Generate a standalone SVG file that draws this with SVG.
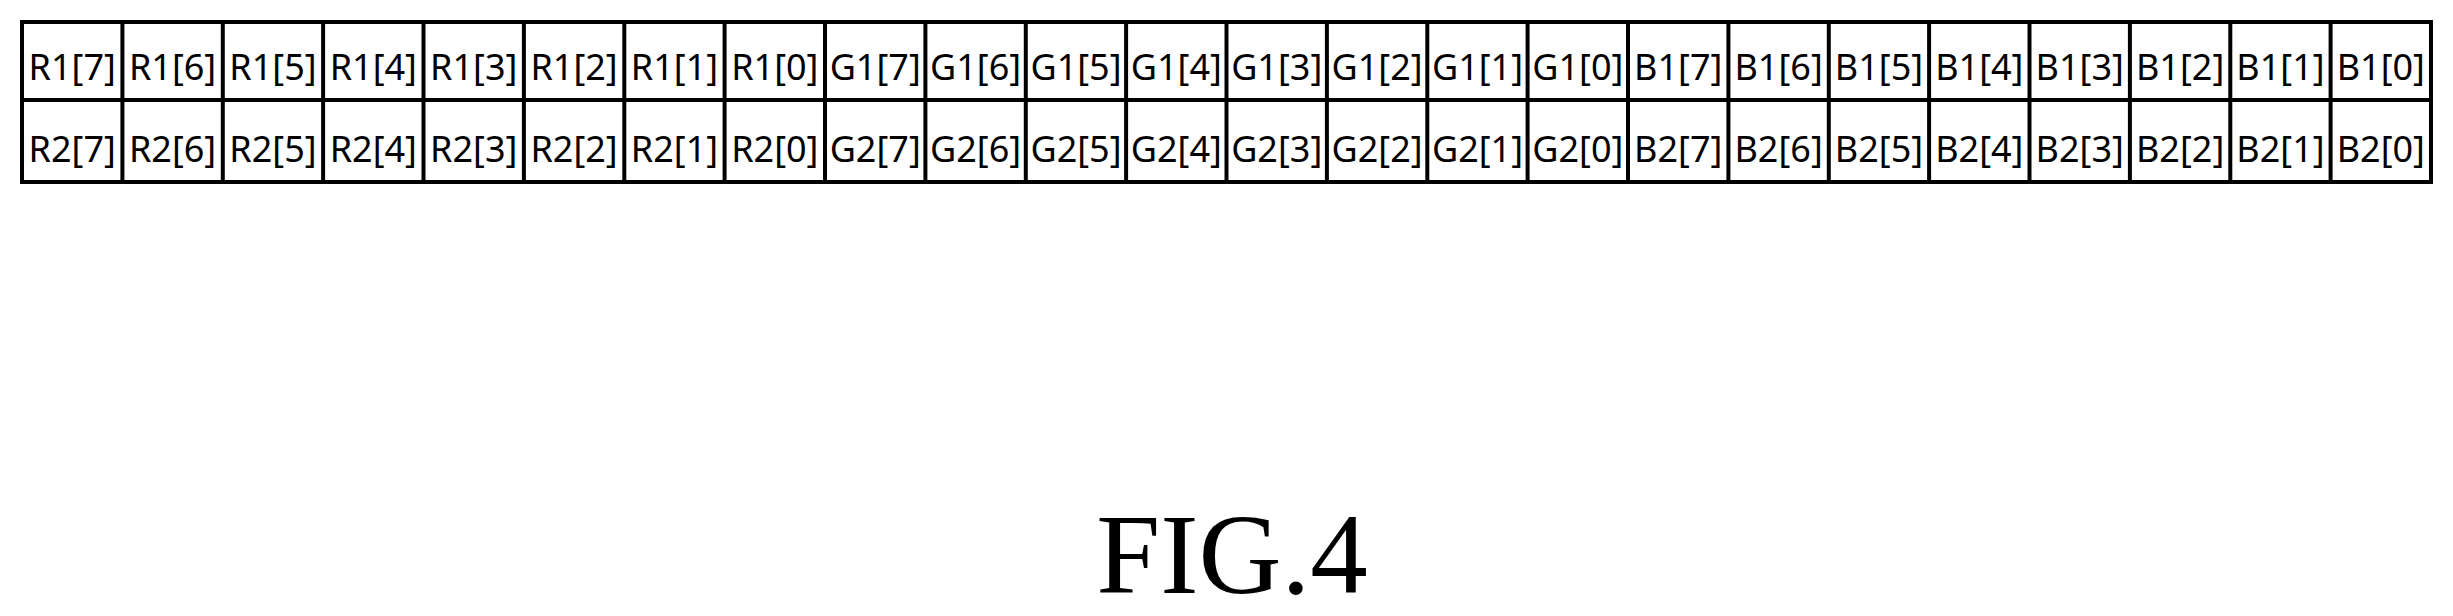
<svg xmlns="http://www.w3.org/2000/svg" width="2453" height="616" viewBox="0 0 2453 616">
<style>
.c{fill:#fff;stroke:#000;stroke-width:4}
.t{font-family:"Noto Sans",sans-serif;font-size:36px;text-anchor:middle;fill:#000}
.f{font-family:"Liberation Serif",serif;font-size:115px;text-anchor:middle;fill:#000}
</style>
<rect width="2453" height="616" fill="#fff"/>
<g id="table">
<rect class="c" x="22" y="22" width="2409" height="160"/>
<line x1="22" y1="100" x2="2431" y2="100" stroke="#000" stroke-width="4"/>
<g stroke="#000" stroke-width="4">
<line x1="122.4" y1="22" x2="122.4" y2="182"/><line x1="222.8" y1="22" x2="222.8" y2="182"/><line x1="323.1" y1="22" x2="323.1" y2="182"/><line x1="423.5" y1="22" x2="423.5" y2="182"/><line x1="523.9" y1="22" x2="523.9" y2="182"/><line x1="624.3" y1="22" x2="624.3" y2="182"/><line x1="724.6" y1="22" x2="724.6" y2="182"/><line x1="825" y1="22" x2="825" y2="182"/><line x1="925.4" y1="22" x2="925.4" y2="182"/><line x1="1025.8" y1="22" x2="1025.8" y2="182"/><line x1="1126.1" y1="22" x2="1126.1" y2="182"/><line x1="1226.5" y1="22" x2="1226.5" y2="182"/><line x1="1326.9" y1="22" x2="1326.9" y2="182"/><line x1="1427.3" y1="22" x2="1427.3" y2="182"/><line x1="1527.6" y1="22" x2="1527.6" y2="182"/><line x1="1628" y1="22" x2="1628" y2="182"/><line x1="1728.4" y1="22" x2="1728.4" y2="182"/><line x1="1828.8" y1="22" x2="1828.8" y2="182"/><line x1="1929.1" y1="22" x2="1929.1" y2="182"/><line x1="2029.5" y1="22" x2="2029.5" y2="182"/><line x1="2129.9" y1="22" x2="2129.9" y2="182"/><line x1="2230.3" y1="22" x2="2230.3" y2="182"/><line x1="2330.6" y1="22" x2="2330.6" y2="182"/>
</g>
<g class="t">
<text x="72.2" y="80">R1[7]</text><text x="172.6" y="80">R1[6]</text><text x="273" y="80">R1[5]</text><text x="373.3" y="80">R1[4]</text><text x="473.7" y="80">R1[3]</text><text x="574.1" y="80">R1[2]</text><text x="674.5" y="80">R1[1]</text><text x="774.8" y="80">R1[0]</text>
<text x="875.2" y="80">G1[7]</text><text x="975.6" y="80">G1[6]</text><text x="1076" y="80">G1[5]</text><text x="1176.3" y="80">G1[4]</text><text x="1276.7" y="80">G1[3]</text><text x="1377.1" y="80">G1[2]</text><text x="1477.5" y="80">G1[1]</text><text x="1577.8" y="80">G1[0]</text>
<text x="1678.2" y="80">B1[7]</text><text x="1778.6" y="80">B1[6]</text><text x="1879" y="80">B1[5]</text><text x="1979.3" y="80">B1[4]</text><text x="2079.7" y="80">B1[3]</text><text x="2180.1" y="80">B1[2]</text><text x="2280.5" y="80">B1[1]</text><text x="2380.8" y="80">B1[0]</text>
<text x="72.2" y="162">R2[7]</text><text x="172.6" y="162">R2[6]</text><text x="273" y="162">R2[5]</text><text x="373.3" y="162">R2[4]</text><text x="473.7" y="162">R2[3]</text><text x="574.1" y="162">R2[2]</text><text x="674.5" y="162">R2[1]</text><text x="774.8" y="162">R2[0]</text>
<text x="875.2" y="162">G2[7]</text><text x="975.6" y="162">G2[6]</text><text x="1076" y="162">G2[5]</text><text x="1176.3" y="162">G2[4]</text><text x="1276.7" y="162">G2[3]</text><text x="1377.1" y="162">G2[2]</text><text x="1477.5" y="162">G2[1]</text><text x="1577.8" y="162">G2[0]</text>
<text x="1678.2" y="162">B2[7]</text><text x="1778.6" y="162">B2[6]</text><text x="1879" y="162">B2[5]</text><text x="1979.3" y="162">B2[4]</text><text x="2079.7" y="162">B2[3]</text><text x="2180.1" y="162">B2[2]</text><text x="2280.5" y="162">B2[1]</text><text x="2380.8" y="162">B2[0]</text>
</g>
</g>
<g id="connectors"/>
<text class="f" x="1232" y="593">FIG.4</text>
</svg>
